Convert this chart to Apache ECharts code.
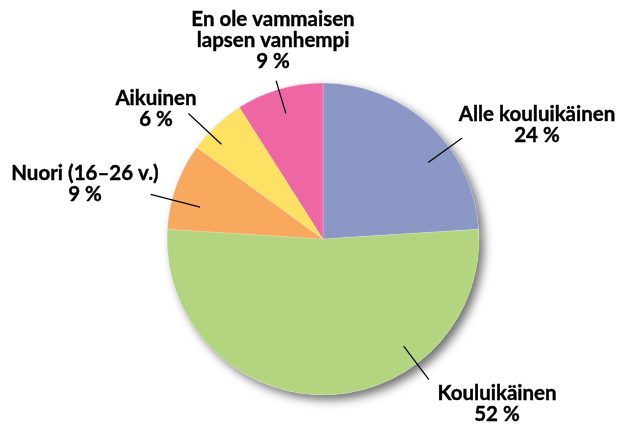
<!DOCTYPE html>
<html>
<head>
<meta charset="utf-8">
<script src="https://cdn.jsdelivr.net/npm/echarts@6/dist/echarts.min.js"></script>
<style>
  html, body { margin: 0; padding: 0; background: #fff; }
  #chart { width: 619px; height: 425px; }
</style>
</head>
<body>
<div id="chart"></div>
<script>
// data, clockwise from 12 o'clock
const categories = [
    'Alle kouluikäinen',
    'Kouluikäinen',
    'Nuori (16–26 v.)',
    'Aikuinen',
    'En ole vammaisen\nlapsen vanhempi'
];
const shares = [24, 52, 9, 6, 9];
const colors = ['#8b97c4', '#b3d57f', '#f8a95d', '#fde163', '#ee67a4'];

// label block centres (px)
const labelPos = [
    [537, 125],
    [497, 404],
    [85, 184],
    [156, 109],
    [273, 40]
];
// leader lines: angle from 12 o'clock (deg), inner and outer radius (px)
const leaderAngle = [54, 143, 284.5, 313, 343.5];
const leaderInner = [130, 134, 127, 139, 131];
const leaderOuter = [172, 176, 178, 184, 165];

const center = [323, 239];

const chart = echarts.init(document.getElementById('chart'), null, { renderer: 'canvas' });

function polar(r, deg) {
    const a = deg * Math.PI / 180;
    return [center[0] + r * Math.sin(a), center[1] - r * Math.cos(a)];
}

const pieData = categories.map((name, i) => ({
    name,
    value: shares[i],
    itemStyle: { color: colors[i] }
}));

const option = {
    backgroundColor: '#fff',
    animation: false,
    series: [
        // underlay that carries the drop shadow
        {
            type: 'pie',
            z: 1,
            center,
            radius: 156,
            startAngle: 90,
            silent: true,
            label: { show: false },
            labelLine: { show: false },
            data: shares.map(v => ({ value: v })),
            itemStyle: {
                color: '#fff',
                shadowBlur: 10,
                shadowOffsetX: 5,
                shadowOffsetY: 5,
                shadowColor: 'rgba(0,0,0,0.55)'
            }
        },
        {
            type: 'pie',
            z: 2,
            center,
            radius: 156,
            startAngle: 90,
            silent: true,
            label: { show: false },
            labelLine: { show: false },
            itemStyle: {
                borderColor: 'rgba(255,255,255,0.35)',
                borderWidth: 0.6
            },
            data: pieData
        },
        // transparent pie on top, only used for the labels and leader lines
        {
            type: 'pie',
            z: 5,
            center,
            radius: 130,
            startAngle: 90,
            silent: true,
            data: categories.map((name, i) => ({ name, value: shares[i] })),
            itemStyle: { color: 'rgba(0,0,0,0)' },
            label: {
                show: true,
                position: 'outside',
                formatter: p => p.name + '\n' + p.value + ' %',
                fontFamily: 'Lato',
                fontWeight: 'bold',
                fontSize: 20.5,
                lineHeight: 21,
                color: '#000',
                textBorderColor: '#000',
                textBorderWidth: 0.4,
                align: 'center',
                overflow: 'none'
            },
            labelLine: {
                show: true,
                length: 40,
                length2: 0,
                lineStyle: { color: '#000', width: 1.2 }
            },
            labelLayout: p => {
                const i = p.dataIndex;
                const a = polar(leaderInner[i], leaderAngle[i]);
                const b = polar(leaderOuter[i], leaderAngle[i]);
                return {
                    x: labelPos[i][0],
                    y: labelPos[i][1],
                    align: 'center',
                    verticalAlign: 'middle',
                    labelLinePoints: [a, b, b]
                };
            }
        }
    ]
};

chart.setOption(option);
</script>
</body>
</html>
